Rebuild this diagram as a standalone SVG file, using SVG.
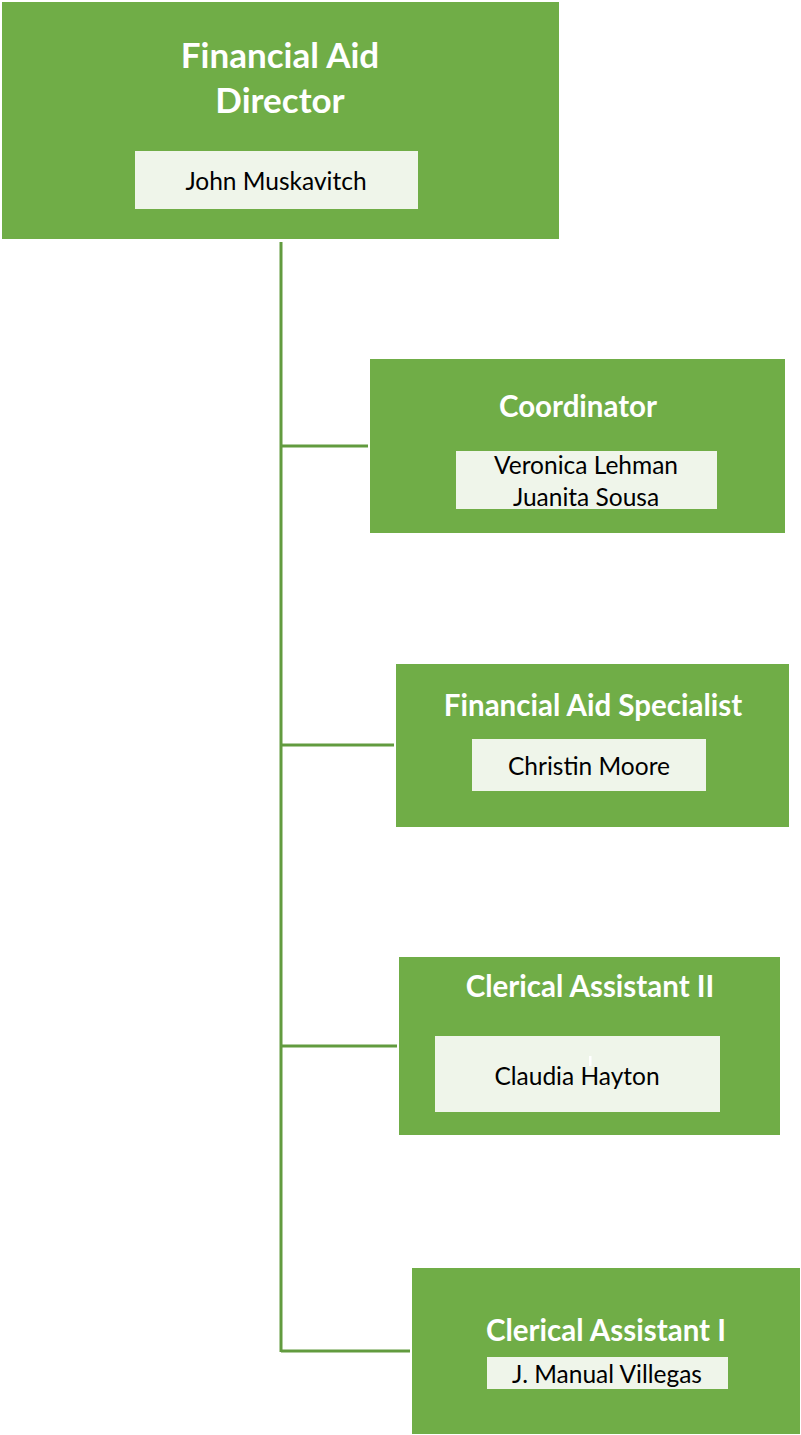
<svg xmlns="http://www.w3.org/2000/svg" width="801" height="1435" viewBox="0 0 801 1435">
<style>
.box{fill:#70AD47}
.inner{fill:#EFF5EA}
.title{font-family:Lato,"Open Sans",sans-serif;font-weight:bold;fill:#FFFFFF;text-anchor:middle}
.name{font-family:Lato,"Open Sans",sans-serif;font-size:24.5px;fill:#000000;text-anchor:middle}
.conn{stroke:#629B3F;stroke-width:3;fill:none}
</style>
<rect width="801" height="1435" fill="#FFFFFF"/>
<g id="connectors">
<path class="conn" d="M281,242 V1352"/>
<path class="conn" d="M281,446 H368"/>
<path class="conn" d="M281,745 H394"/>
<path class="conn" d="M281,1046 H397"/>
<path class="conn" d="M281,1351 H410"/>
</g>
<g id="director">
<rect class="box" x="2" y="2" width="557" height="237"/>
<text class="title" x="280" y="68" font-size="35">Financial Aid</text>
<text class="title" x="280" y="113" font-size="35">Director</text>
<rect class="inner" x="135" y="151" width="283" height="58"/>
<text class="name" x="276" y="190">John Muskavitch</text>
</g>
<g id="coordinator">
<rect class="box" x="370" y="359" width="415" height="174"/>
<text class="title" x="578" y="417" font-size="29.5">Coordinator</text>
<rect class="inner" x="456" y="451" width="261" height="58"/>
<text class="name" x="586" y="474">Veronica Lehman</text>
<text class="name" x="586" y="506">Juanita Sousa</text>
</g>
<g id="specialist">
<rect class="box" x="396" y="664" width="393" height="163"/>
<text class="title" x="593" y="716" font-size="29.5">Financial Aid Specialist</text>
<rect class="inner" x="472" y="739" width="234" height="52"/>
<text class="name" x="589" y="775">Christin Moore</text>
</g>
<g id="clerical2">
<rect class="box" x="399" y="957" width="381" height="178"/>
<text class="title" x="590" y="997" font-size="29.5">Clerical Assistant II</text>
<rect class="inner" x="435" y="1036" width="285" height="76"/>
<rect x="589" y="1056" width="2.5" height="10" fill="#FFFFFF"/>
<text class="name" x="577" y="1085">Claudia Hayton</text>
</g>
<g id="clerical1">
<rect class="box" x="412" y="1268" width="388" height="166"/>
<text class="title" x="606" y="1341" font-size="29.5">Clerical Assistant I</text>
<rect class="inner" x="487" y="1357" width="241" height="32"/>
<text class="name" x="607" y="1383">J. Manual Villegas</text>
</g>
</svg>
